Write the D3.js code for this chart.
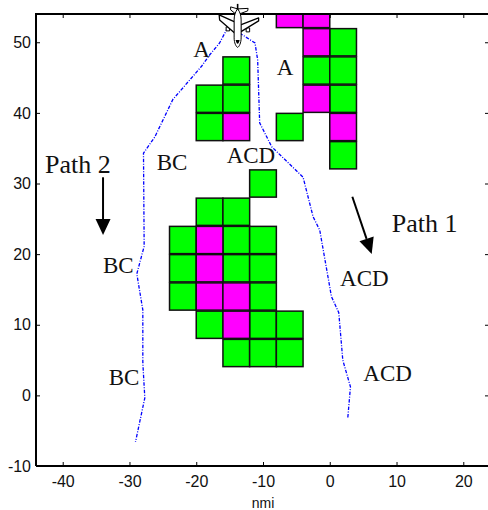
<!DOCTYPE html>
<html><head><meta charset="utf-8">
<script src="https://cdnjs.cloudflare.com/ajax/libs/d3/7.8.5/d3.min.js"></script>
<style>html,body{margin:0;padding:0;background:#fff;overflow:hidden}svg{display:block}</style>
</head><body><svg id="c" width="488" height="510"></svg>
<script>
// Weather cells: [left x edge, lower y edge] in nmi, 4x4 nmi
const greenCells = [[0,48],[-16,44],[-4,44],[0,44],[-20,40],[-16,40],[0,40],[-20,36],[-8,36],[0,32],
  [-12,28],[-20,24],[-16,24],[-24,20],[-16,20],[-12,20],[-24,16],[-16,16],[-12,16],[-24,12],[-12,12],
  [-20,8],[-12,8],[-8,8],[-16,4],[-12,4],[-8,4]];
const magentaCells = [[-8,52],[-4,52],[-4,48],[-4,40],[-16,36],[0,36],[-20,20],[-20,16],[-20,12],[-16,12],[-16,8]];
const path1 = [[-13.5,51.3],[-11.2,49.9],[-10.8,47.5],[-10.5,38.6],[-8.7,35.2],[-4,30.9],[-2.5,25.3],[-1.5,23.4],[0.25,14],[1.35,11.7],[1.95,5],[3.1,1.2],[2.7,-3.2]];
const path2 = [[-15.3,52.05],[-16.5,49.9],[-18,48.2],[-19.2,46.6],[-23.5,41.9],[-26.2,36.6],[-27.9,34.3],[-27.8,21.1],[-28.9,17.2],[-28,12.1],[-28,4.6],[-27.7,-0.35],[-29.1,-6.6]];
const labels = [["A",-20.44,47.95],["A",-7.95,45.36],["ACD",-15.44,32.86],["BC",-25.92,31.91],["BC",-33.96,17.37],["BC",-33.11,1.47],["ACD",1.54,15.53],["ACD",5.03,2.08]];
const pathLabels = [["Path 1",9.28,23.18],["Path 2",-42.65,31.44]];
const arrows = [[3.38,28.13,6.28,20.02],[-33.96,30.88,-33.96,22.71]];
const planeAt = [-13.8,52.6];
const xTicks = [-40,-30,-20,-10,0,10,20];
const yTicks = [-10,0,10,20,30,40,50];
const xLabel = "nmi";
const cellSize = 4;

const svg = d3.select("#c");
const x = d3.scaleLinear().domain([-44,24]).range([36,490]);
const y = d3.scaleLinear().domain([-10,54]).range([466,14]);

svg.append("defs").append("clipPath").attr("id","plot").append("rect")
  .attr("x",36).attr("y",14).attr("width",454).attr("height",452);
const plot = svg.append("g").attr("clip-path","url(#plot)");

function cells(data,color){
  plot.append("g").selectAll("rect").data(data).join("rect")
    .attr("x",d=>x(d[0])).attr("width",d=>x(d[0]+cellSize)-x(d[0]))
    .attr("y",d=>y(d[1]+cellSize)+0.5).attr("height",d=>y(d[1])-y(d[1]+cellSize)-1)
    .attr("fill",color).attr("stroke","#111").attr("stroke-width",1.5);
}
cells(greenCells,"#00ff00");
cells(magentaCells,"#ff00ff");

const line = d3.line().x(d=>x(d[0])).y(d=>y(d[1]));
[path1,path2].forEach(p=>svg.append("path").attr("d",line(p)).attr("fill","none")
  .attr("stroke","#0000ff").attr("stroke-width",1.3).attr("stroke-dasharray","3.5 1.5 1 1.5"));

function axisStyle(g){
  g.selectAll(".domain").remove();
  g.selectAll(".tick line").attr("stroke","#000").attr("stroke-width",1);
  g.selectAll("text").attr("font-family","'Liberation Sans',Arial,sans-serif").attr("font-size",16).attr("fill","#111");
}
const fmt = d => String(d);
svg.append("g").attr("transform","translate(0,466)").call(d3.axisBottom(x).tickValues(xTicks).tickFormat(fmt).tickSize(-4).tickPadding(10)).call(axisStyle);
svg.append("g").attr("transform","translate(36,0)").call(d3.axisLeft(y).tickValues(yTicks).tickFormat(fmt).tickSize(-4).tickPadding(5)).call(axisStyle);
svg.append("g").attr("transform","translate(0,14)").call(d3.axisTop(x).tickValues(xTicks).tickSize(-4).tickFormat("")).call(axisStyle);
svg.append("g").attr("transform","translate(490,0)").call(d3.axisRight(y).tickValues(yTicks).tickSize(-5).tickFormat("")).call(axisStyle);
svg.append("path").attr("d",`M36,466V14H488M36,466H488`).attr("fill","none").attr("stroke","#000").attr("stroke-width",2);

svg.append("text").attr("x",x(-10)).attr("y",508).attr("text-anchor","middle")
  .attr("font-family","'Liberation Sans',Arial,sans-serif").attr("font-size",14).attr("fill","#111").text(xLabel);

const serif = "'Liberation Serif','Times New Roman',serif";
svg.append("g").selectAll("text").data(labels).join("text")
  .attr("x",d=>x(d[1])).attr("y",d=>y(d[2])).attr("font-family",serif).attr("font-size",23).attr("fill","#111").text(d=>d[0]);
svg.append("g").selectAll("text").data(pathLabels).join("text")
  .attr("x",d=>x(d[1])).attr("y",d=>y(d[2])).attr("font-family",serif).attr("font-size",26).attr("fill","#111").text(d=>d[0]);

arrows.forEach(a=>{
  const x0=x(a[0]),y0=y(a[1]),x1=x(a[2]),y1=y(a[3]);
  const L=Math.hypot(x1-x0,y1-y0),ux=(x1-x0)/L,uy=(y1-y0)/L,h=16,w=7.5;
  svg.append("line").attr("x1",x0).attr("y1",y0).attr("x2",x1-ux*h).attr("y2",y1-uy*h).attr("stroke","#000").attr("stroke-width",2);
  svg.append("path").attr("d",`M${x1},${y1}L${x1-ux*h-uy*w},${y1-uy*h+ux*w}L${x1-ux*h+uy*w},${y1-uy*h-ux*w}Z`).attr("fill","#000");
});

// airliner glyph, nose pointing down
const plane = svg.append("g").attr("transform",`translate(${x(planeAt[0])},${y(planeAt[1])})`)
  .attr("fill","#fff").attr("stroke","#000").attr("stroke-width",1).attr("stroke-linejoin","round");
plane.append("path").attr("d","M-7,-17 L0,-15 L10.5,-15.5 L10,-13 L2,-10 L-2,-10 L-7,-14 Z");
plane.append("path").attr("d","M0,-20 L0,-9").attr("stroke-width",1.6);
plane.append("path").attr("d","M-11.5,3 h3.5 v4 h-3.5 Z M8.5,4 h3.5 v4 h-3.5 Z");
plane.append("path").attr("d","M-3,-2 L-18.5,-9 L-18,-4 L-3,9 Z").attr("stroke-width",1.3);
plane.append("path").attr("d","M3,1 L21,-6 L21,-3 L3,8 Z").attr("stroke-width",1.3);
plane.append("path").attr("d","M0,-15 C2.5,-12 3.5,-8 3.5,-4 L3.5,14 C3.5,19 1.5,23 0,23.5 C-1.5,23 -3.5,19 -3.5,14 L-3.5,-4 C-3.5,-8 -2.5,-12 0,-15 Z");
plane.append("path").attr("d","M-2,16 C-1,21 1,21 2,16 Z").attr("fill","#000").attr("stroke","none");
</script></body></html>
